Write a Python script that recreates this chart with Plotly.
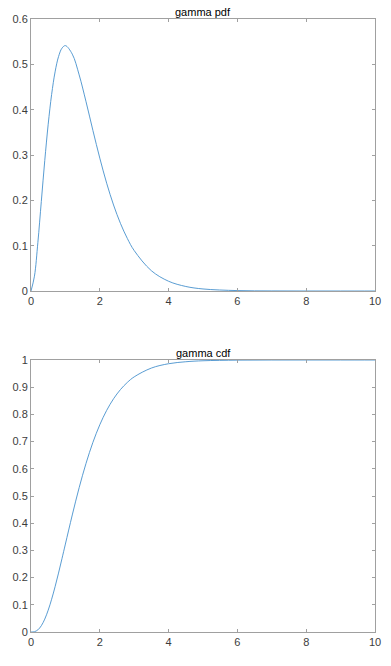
import plotly.graph_objects as go

x_vals = [0, 0.1, 0.2, 0.3, 0.4, 0.5, 0.6, 0.7, 0.8, 0.9, 1.0, 1.2, 1.4, 1.6, 1.8, 2.0,
          2.2, 2.4, 2.6, 2.8, 3.0, 3.5, 4.0, 4.5, 5.0, 6.0, 7.0, 8.0, 9.0, 10.0]
pdf_vals = [0, 0.0327, 0.1073, 0.1976, 0.2876, 0.3679, 0.4337, 0.4833, 0.5169, 0.5356, 0.5413,
            0.5225, 0.4767, 0.4175, 0.3541, 0.2931, 0.2377, 0.1897, 0.1492, 0.1160, 0.0892,
            0.0447, 0.0215, 0.0100, 0.0045, 0.0009, 0.0002, 0.00003, 0.0, 0.0]
cdf_vals = [0, 0.0011, 0.0079, 0.0231, 0.0474, 0.0803, 0.1205, 0.1665, 0.2166, 0.2694, 0.3233,
            0.4303, 0.5307, 0.6201, 0.6973, 0.7619, 0.8149, 0.8575, 0.8912, 0.9176, 0.9380,
            0.9704, 0.9863, 0.9936, 0.9972, 0.9995, 0.9999, 1.0, 1.0, 1.0]
titles = ["gamma pdf", "gamma cdf"]
x_ticks = [0, 2, 4, 6, 8, 10]
pdf_ticks = [0, 0.1, 0.2, 0.3, 0.4, 0.5, 0.6]
cdf_ticks = [0, 0.1, 0.2, 0.3, 0.4, 0.5, 0.6, 0.7, 0.8, 0.9, 1]

line_col = "rgb(70,145,205)"
axis_col = "rgb(160,160,160)"
font = dict(family="Liberation Sans, Arial", size=11, color="rgb(60,60,60)")

fig = go.Figure()
fig.add_trace(go.Scatter(x=x_vals, y=pdf_vals, mode="lines", line=dict(color=line_col, width=0.9, shape="spline"),
                         xaxis="x", yaxis="y", showlegend=False))
fig.add_trace(go.Scatter(x=x_vals, y=cdf_vals, mode="lines", line=dict(color=line_col, width=0.9, shape="spline"),
                         xaxis="x2", yaxis="y2", showlegend=False))

ax_common = dict(showline=True, linecolor=axis_col, linewidth=1, mirror="ticks", ticks="inside",
                 ticklen=3, tickcolor=axis_col, showgrid=False, zeroline=False,
                 tickfont=font, automargin=False)

# plot areas in page: x 31..375, y 19..291 and 360..632
W, H = 391, 666
ml, mt, mr, mb = 31, 19, 16, 34
ph = H - mt - mb
top_dom = [1 - (291 - 19) / ph, 1]
bot_dom = [0, 1 - (360 - 19) / ph]

title_font = dict(family="Liberation Sans, Arial", size=11, color="black")
fig.update_layout(
    width=W, height=H,
    margin=dict(l=ml, r=mr, t=mt, b=mb),
    paper_bgcolor="white", plot_bgcolor="white",
    xaxis=dict(domain=[0, 1], anchor="y", range=[0, 10], tickvals=x_ticks, **ax_common),
    yaxis=dict(domain=top_dom, anchor="x", range=[0, 0.6], tickvals=pdf_ticks, **ax_common),
    xaxis2=dict(domain=[0, 1], anchor="y2", range=[0, 10], tickvals=x_ticks, **ax_common),
    yaxis2=dict(domain=bot_dom, anchor="x2", range=[0, 1], tickvals=cdf_ticks, **ax_common),
    annotations=[
        dict(text=titles[0], x=0.5, xref="paper", y=top_dom[1], yref="paper", yanchor="bottom",
             showarrow=False, font=title_font, yshift=-1),
        dict(text=titles[1], x=0.5, xref="paper", y=bot_dom[1], yref="paper", yanchor="bottom",
             showarrow=False, font=title_font, yshift=-1),
    ],
)

fig.write_html("out.html", config={"displayModeBar": False},
               post_script="document.body.style.margin='0';")
